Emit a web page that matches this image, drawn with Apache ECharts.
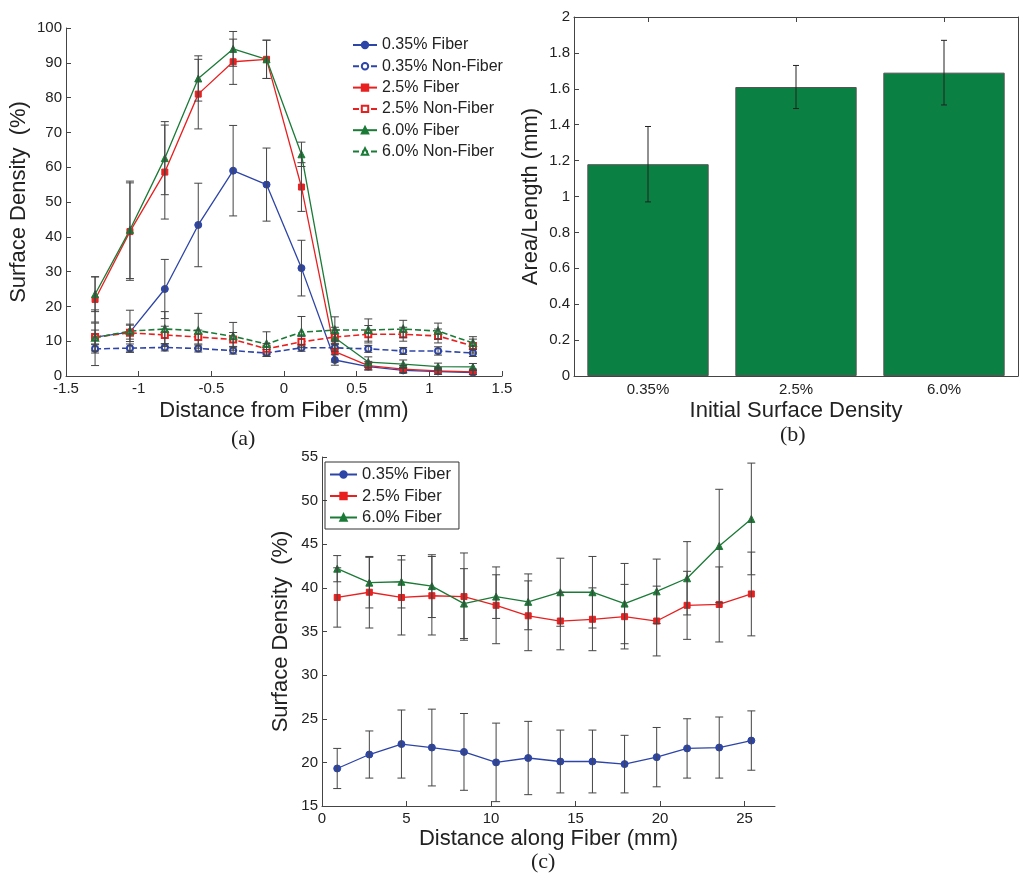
<!DOCTYPE html>
<html>
<head>
<meta charset="utf-8">
<script src="https://cdn.jsdelivr.net/npm/echarts@6/dist/echarts.min.js"></script>
<style>
  html, body { margin: 0; padding: 0; background: #fff; }
  #chart { width: 1019px; height: 878px; }
</style>
</head>
<body>
<div id="chart"></div>
<script>
// (a) surface density vs distance from fiber
const distA = [-1.3, -1.06, -0.82, -0.59, -0.35, -0.12, 0.12, 0.35, 0.58, 0.82, 1.06, 1.3];
const fib035 = [11.2, 12.6, 25, 43.4, 59, 55, 31, 4.6, 2.7, 1.6, 1.3, 1.0];
const fib035Err = [2, 2, 8.5, 12, 13, 10.5, 8, 1.5, 1, 0.8, 0.8, 0.6];
const non035 = [7.8, 8.0, 8.2, 7.9, 7.3, 6.6, 8.1, 8.1, 7.8, 7.2, 7.2, 6.6];
const non035Err = [1.2, 1.2, 1, 1, 1, 1, 1, 1, 1, 1, 1.2, 1];
const fib25 = [22, 41.5, 58.6, 81, 90.3, 91, 54.3, 7, 3, 2, 1.5, 1.2];
const fib25Err = [6.5, 14, 13.5, 10, 6.5, 5.5, 7, 3, 1.2, 1, 1, 0.8];
const non25 = [11.2, 12.4, 11.8, 11.2, 10.5, 7.8, 9.8, 11.2, 12, 12, 11.5, 8.6];
const non25Err = [4, 2.5, 2.5, 2, 2, 1.5, 1.5, 2, 2.5, 2, 2, 2];
const fib60 = [23.5, 42, 62.6, 85.5, 94, 91, 63.7, 11, 4, 3.4, 2.7, 2.6];
const fib60Err = [5, 14, 10.5, 6.5, 5, 5.5, 3.5, 3, 1.5, 1.2, 1, 1];
const non60 = [11, 12.9, 13.5, 13, 11.4, 9.2, 12.6, 13.2, 13.2, 13.5, 12.9, 9.5];
const non60Err = [8, 6, 5, 5, 4, 3.5, 4.5, 3.8, 3.2, 2.5, 2.3, 1.8];

// (b) area/length bars
const catsB = ['0.35%', '2.5%', '6.0%'];
const areaLen = [1.18, 1.61, 1.69];
const areaErr = [0.21, 0.12, 0.18];

// (c) surface density along fiber
const distC = [0.9, 2.8, 4.7, 6.5, 8.4, 10.3, 12.2, 14.1, 16.0, 17.9, 19.8, 21.6, 23.5, 25.4];
const c035 = [19.3, 20.9, 22.1, 21.7, 21.2, 20.0, 20.5, 20.1, 20.1, 19.8, 20.6, 21.6, 21.7, 22.5];
const c035Err = [2.3, 2.7, 3.9, 4.4, 4.4, 4.5, 4.2, 3.6, 3.6, 3.3, 3.4, 3.4, 3.5, 3.4];
const c25 = [38.9, 39.5, 38.9, 39.1, 39.0, 38.0, 36.8, 36.2, 36.4, 36.7, 36.2, 38.0, 38.1, 39.3];
const c25Err = [3.4, 4.1, 4.3, 4.5, 5.0, 4.4, 4.0, 3.3, 3.6, 3.7, 4.0, 3.9, 4.3, 4.8];
const c60 = [42.2, 40.6, 40.7, 40.2, 38.2, 39.0, 38.4, 39.5, 39.5, 38.2, 39.6, 41.1, 44.8, 47.9];
const c60Err = [1.5, 2.9, 3.0, 3.6, 4.0, 2.5, 3.2, 3.9, 4.1, 4.6, 3.7, 4.2, 6.5, 6.4];

const ticksC = [0, 5, 10, 15, 20, 25];

const BLUE = '#2e45a8', RED = '#e82020', GREEN = '#1a7a36';
const FONT = 'Liberation Sans, Arial, sans-serif';

const pairs = (xs, ys) => xs.map((x, i) => [x, ys[i]]);
const errs = (xs, ys, es) => xs.map((x, i) => [x, ys[i] - es[i], ys[i] + es[i]]);

function errRender(color, half) {
  return function (params, api) {
    const x = api.value(0);
    const lo = api.coord([x, api.value(1)]);
    const hi = api.coord([x, api.value(2)]);
    const st = { stroke: color, lineWidth: 1 };
    return {
      type: 'group',
      children: [
        { type: 'line', shape: { x1: lo[0], y1: lo[1], x2: hi[0], y2: hi[1] }, style: st },
        { type: 'line', shape: { x1: lo[0] - half, y1: lo[1], x2: lo[0] + half, y2: lo[1] }, style: st },
        { type: 'line', shape: { x1: hi[0] - half, y1: hi[1], x2: hi[0] + half, y2: hi[1] }, style: st }
      ]
    };
  };
}

function errSeries(data, xi, color, half) {
  return {
    type: 'custom', xAxisIndex: xi, yAxisIndex: xi, data: data, z: 5,
    renderItem: errRender(color, half), encode: { x: 0, y: [1, 2] },
    silent: true, clip: false
  };
}

function lineSeries(name, data, idx, color, symbol, size, dashed) {
  return {
    name: name, type: 'line', xAxisIndex: idx, yAxisIndex: idx, data: data,
    symbol: symbol, symbolSize: size, z: 3,
    lineStyle: { color: color, width: dashed ? 1.6 : 1.3, type: dashed ? [6, 3] : 'solid' },
    itemStyle: { color: color, borderColor: color, borderWidth: 1 },
    animation: false
  };
}

const axLine = { show: true, onZero: false, lineStyle: { color: '#444', width: 1 } };
const axTick = { show: true, inside: true, length: 5, lineStyle: { color: '#444' } };
const axLabel = { color: '#222', fontSize: 15, fontFamily: FONT };
const nameStyle = { color: '#222', fontSize: 22, fontFamily: FONT };

const myChart = echarts.init(document.getElementById('chart'));

const option = {
  backgroundColor: '#fff',
  animation: false,
  grid: [
    { left: 66, top: 28, width: 436, height: 348 },
    { left: 574, top: 17, width: 444, height: 359 },
    { left: 322, top: 457, width: 453, height: 349 }
  ],
  legend: [
    {
      orient: 'vertical', left: 352, top: 37, padding: 0, itemGap: 5.3, itemWidth: 24, itemHeight: 8,
      textStyle: { fontSize: 16, fontFamily: FONT, color: '#222', lineHeight: 14 },
      data: ['0.35% Fiber', '0.35% Non-Fiber', '2.5% Fiber', '2.5% Non-Fiber', '6.0% Fiber', '6.0% Non-Fiber']
    },
    {
      orient: 'vertical', left: 325, top: 462, itemGap: 4.5, itemWidth: 27, itemHeight: 8,
      padding: [4, 8, 3, 4], borderColor: '#333', borderWidth: 1,
      textStyle: { fontSize: 16.5, fontFamily: FONT, color: '#222', lineHeight: 15.5 },
      data: ['0.35% Fiber', '2.5% Fiber', '6.0% Fiber']
    }
  ],
  xAxis: [
    {
      type: 'value', gridIndex: 0, min: -1.5, max: 1.5, interval: 0.5,
      name: 'Distance from Fiber (mm)', nameLocation: 'middle', nameGap: 24, nameTextStyle: nameStyle,
      axisLine: axLine, axisTick: axTick, axisLabel: Object.assign({ margin: 5 }, axLabel), splitLine: { show: false }
    },
    {
      type: 'category', gridIndex: 1, data: catsB,
      name: 'Initial Surface Density', nameLocation: 'middle', nameGap: 24, nameTextStyle: nameStyle,
      axisLine: axLine, axisTick: Object.assign({ alignWithLabel: true }, axTick),
      axisLabel: Object.assign({ margin: 6 }, axLabel), splitLine: { show: false }
    },
    {
      type: 'value', gridIndex: 2, min: 0, max: 26.8,
      name: 'Distance along Fiber (mm)', nameLocation: 'middle', nameGap: 22, nameTextStyle: nameStyle,
      axisLine: axLine, axisTick: Object.assign({ customValues: ticksC }, axTick),
      axisLabel: Object.assign({ customValues: ticksC, margin: 5 }, axLabel), splitLine: { show: false }
    },
    {
      type: 'category', gridIndex: 1, data: catsB, position: 'top',
      axisLine: axLine, axisTick: Object.assign({ alignWithLabel: true }, axTick),
      axisLabel: { show: false }, splitLine: { show: false }
    }
  ],
  yAxis: [
    {
      type: 'value', gridIndex: 0, min: 0, max: 100, interval: 10,
      name: 'Surface Density  (%)', nameLocation: 'middle', nameGap: 36, nameTextStyle: nameStyle,
      axisLine: axLine, axisTick: axTick, axisLabel: Object.assign({ margin: 4 }, axLabel), splitLine: { show: false }
    },
    {
      type: 'value', gridIndex: 1, min: 0, max: 2, interval: 0.2,
      name: 'Area/Length (mm)', nameLocation: 'middle', nameGap: 32, nameTextStyle: nameStyle,
      axisLine: axLine, axisTick: axTick, axisLabel: Object.assign({ margin: 4 }, axLabel), splitLine: { show: false }
    },
    {
      type: 'value', gridIndex: 2, min: 15, max: 55, interval: 5,
      name: 'Surface Density  (%)', nameLocation: 'middle', nameGap: 30, nameTextStyle: nameStyle,
      axisLine: axLine, axisTick: axTick, axisLabel: Object.assign({ margin: 4 }, axLabel), splitLine: { show: false }
    },
    {
      type: 'value', gridIndex: 1, min: 0, max: 2, position: 'right',
      axisLine: axLine, axisTick: { show: false }, axisLabel: { show: false }, splitLine: { show: false }
    }
  ],
  graphic: [
    { type: 'text', left: 231, top: 428, style: { text: '(a)', font: '22px "Liberation Serif", "Times New Roman", serif', fill: '#222' } },
    { type: 'text', left: 780, top: 424, style: { text: '(b)', font: '22px "Liberation Serif", "Times New Roman", serif', fill: '#222' } },
    { type: 'text', left: 531, top: 851, style: { text: '(c)', font: '22px "Liberation Serif", "Times New Roman", serif', fill: '#222' } }
  ],
  series: [
    lineSeries('0.35% Fiber', pairs(distA, fib035), 0, BLUE, 'circle', 7, false),
    lineSeries('0.35% Non-Fiber', pairs(distA, non035), 0, BLUE, 'emptyCircle', 6, true),
    lineSeries('2.5% Fiber', pairs(distA, fib25), 0, RED, 'rect', 6, false),
    lineSeries('2.5% Non-Fiber', pairs(distA, non25), 0, RED, 'emptyRect', 6, true),
    lineSeries('6.0% Fiber', pairs(distA, fib60), 0, GREEN, 'triangle', 7, false),
    lineSeries('6.0% Non-Fiber', pairs(distA, non60), 0, GREEN, 'emptyTriangle', 6, true),
    errSeries(errs(distA, fib035, fib035Err), 0, '#444', 4),
    errSeries(errs(distA, non035, non035Err), 0, '#444', 4),
    errSeries(errs(distA, fib25, fib25Err), 0, '#444', 4),
    errSeries(errs(distA, non25, non25Err), 0, '#444', 4),
    errSeries(errs(distA, fib60, fib60Err), 0, '#444', 4),
    errSeries(errs(distA, non60, non60Err), 0, '#444', 4),

    {
      type: 'bar', xAxisIndex: 1, yAxisIndex: 1, data: areaLen, barCategoryGap: '18%',
      itemStyle: { color: '#0b8043', borderColor: '#555', borderWidth: 1 }, z: 2
    },
    {
      type: 'custom', xAxisIndex: 1, yAxisIndex: 1, z: 5, silent: true,
      data: catsB.map((c, i) => [i, areaLen[i] - areaErr[i], areaLen[i] + areaErr[i]]),
      renderItem: errRender('#222', 3), encode: { x: 0, y: [1, 2] }
    },

    lineSeries('0.35% Fiber', pairs(distC, c035), 2, BLUE, 'circle', 7, false),
    lineSeries('2.5% Fiber', pairs(distC, c25), 2, RED, 'rect', 6, false),
    lineSeries('6.0% Fiber', pairs(distC, c60), 2, GREEN, 'triangle', 7, false),
    errSeries(errs(distC, c035, c035Err), 2, '#444', 4),
    errSeries(errs(distC, c25, c25Err), 2, '#444', 4),
    errSeries(errs(distC, c60, c60Err), 2, '#444', 4)
  ]
};

myChart.setOption(option);
</script>
</body>
</html>
